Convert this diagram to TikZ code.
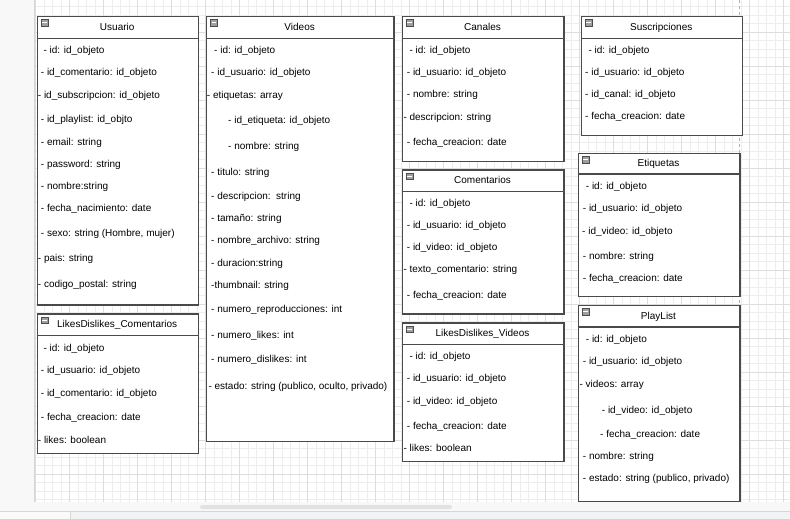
\documentclass[tikz,border=0pt]{standalone}
\usepackage{fontspec}
\setmainfont{Liberation Sans}
\definecolor{minorc}{HTML}{EDEDED}
\definecolor{majorc}{HTML}{DDDDDD}
\definecolor{boxc}{HTML}{4A4A4A}
\definecolor{panec}{HTML}{F8F8F8}
\definecolor{panerule}{HTML}{D6D6D6}
\definecolor{footc}{HTML}{F1F3F4}
\definecolor{thumbc}{HTML}{E2E2E2}
\definecolor{pagebreak}{HTML}{B0B0B0}

% one entity box: name, left, top, right, bottom, header bottom, title
\newcommand\entitybox[7]{%
  \node[entity, anchor=north west, minimum width={#4-#2}, minimum height={#5-#3}] (#1) at (#2,#3) {};
  \draw[entity] (#2,#6) -- (#4,#6);
  \node[toggle] (#1-toggle) at (#2+4,#3+3.3) {};
  \node[titletext] (#1-title) at ({(#2+#4)/2},{(#3+#6)/2+3.4}) {#7};
}
% one attribute line: name, x, vertical centre, text
\newcommand\attrrow[4]{\node[attr] (#1) at (#2,#3+3.3) {#4};}

\begin{document}
\begin{tikzpicture}[x=1pt,y=-1pt,
  gridminor/.style={draw=minorc, line width=0.6pt},
  gridmajor/.style={draw=majorc, line width=0.8pt},
  entity/.style={draw=boxc, line width=1.2pt, fill=white, inner sep=0pt},
  attr/.style={anchor=base west, inner sep=0pt, font=\fontsize{10}{12}\selectfont},
  titletext/.style={anchor=base, inner sep=0pt, font=\fontsize{10}{12}\selectfont},
  toggle/.style={draw=gray!60!black, fill=gray!75, line width=0.5pt, inner sep=0pt,
    anchor=north west, minimum width=7pt, minimum height=6.5pt,
    path picture={\draw[white, line width=1.1pt]
      ([xshift=1.3pt]path picture bounding box.west) -- ([xshift=-1.3pt]path picture bounding box.east);}}]
\useasboundingbox (0,0) rectangle (790,519);

% canvas and surrounding panels
\fill[white] (34,0) rectangle (790,502);
\fill[panec] (0,0) rectangle (34,502);
\fill[panec] (0,502) rectangle (790,511);
\fill[white!98!black] (0,511) rectangle (70,519);
\fill[footc] (70,511) rectangle (790,519);

% background grid
\foreach \x in {35.3,43.8,...,790} \draw[gridminor] (\x,0) -- (\x,502);
\foreach \y in {6.5,15,...,502} \draw[gridminor] (34,\y) -- (790,\y);
\foreach \x in {35.3,69.3,...,790} \draw[gridmajor] (\x,0) -- (\x,502);
\foreach \y in {32,66,...,502} \draw[gridmajor] (34,\y) -- (790,\y);

\draw[panerule, line width=0.8pt] (34,0) -- (34,502);
\draw[panerule, line width=0.8pt] (0,511) -- (790,511);
\draw[panerule, line width=0.8pt] (70,511) -- (70,519);
\fill[thumbc, rounded corners=2pt] (200,505) rectangle (452,509);

% page break
\draw[pagebreak, dashed, dash pattern=on 3pt off 3pt, line width=0.7pt] (739.5,0) -- (739.5,502);

% Usuario
\entitybox{usuario}{36.7}{16}{197.7}{304.3}{38.3}{Usuario}
\attrrow{u1}{43.3}{50}{- id: id\_objeto}
\attrrow{u2}{40.7}{71.7}{- id\_comentario: id\_objeto}
\attrrow{u3}{37.7}{95}{- id\_subscripcion: id\_objeto}
\attrrow{u4}{40.7}{119.3}{- id\_playlist: id\_objto}
\attrrow{u5}{40.7}{142}{- email: string}
\attrrow{u6}{40.7}{163.7}{- password: string}
\attrrow{u7}{40.7}{185.7}{- nombre:string}
\attrrow{u8}{40.7}{207.7}{- fecha\_nacimiento: date}
\attrrow{u9}{40.7}{232.7}{- sexo: string (Hombre, mujer)}
\attrrow{u10}{37.7}{257.7}{- pais: string}
\attrrow{u11}{37.7}{284}{- codigo\_postal: string}

% LikesDislikes_Comentarios
\entitybox{ldc}{36.7}{313.3}{197.7}{452.7}{335.3}{LikesDislikes\_Comentarios}
\attrrow{ldc1}{43.3}{347.7}{- id: id\_objeto}
\attrrow{ldc2}{40.7}{370}{- id\_usuario: id\_objeto}
\attrrow{ldc3}{40.7}{392.7}{- id\_comentario: id\_objeto}
\attrrow{ldc4}{40.7}{417}{- fecha\_creacion: date}
\attrrow{ldc5}{37.7}{440}{- likes: boolean}

% Videos
\entitybox{videos}{206}{16}{393.3}{440.7}{38.3}{Videos}
\attrrow{v1}{214}{50}{- id: id\_objeto}
\attrrow{v2}{211}{71.7}{- id\_usuario: id\_objeto}
\attrrow{v3}{206.7}{95}{- etiquetas: array}
\attrrow{v4}{228}{120.3}{- id\_etiqueta: id\_objeto}
\attrrow{v5}{228}{145.7}{- nombre: string}
\attrrow{v6}{211}{172}{- titulo: string}
\attrrow{v7}{211}{195.7}{- descripcion:\ \ string}
\attrrow{v8}{211}{218}{- tamaño: string}
\attrrow{v9}{211}{240}{- nombre\_archivo: string}
\attrrow{v10}{211}{263}{- duracion:string}
\attrrow{v11}{211}{284.7}{-thumbnail: string}
\attrrow{v12}{211}{309}{- numero\_reproducciones: int}
\attrrow{v13}{211}{335}{- numero\_likes: int}
\attrrow{v14}{211}{359.3}{- numero\_dislikes: int}
\attrrow{v15}{208.3}{385.7}{- estado: string (publico, oculto, privado)}

% Canales
\entitybox{canales}{401.7}{16}{563.3}{160.7}{38.3}{Canales}
\attrrow{c1}{409.3}{50}{- id: id\_objeto}
\attrrow{c2}{406.7}{71.7}{- id\_usuario: id\_objeto}
\attrrow{c3}{406.7}{94}{- nombre: string}
\attrrow{c4}{403.3}{117}{- descripcion: string}
\attrrow{c5}{406.7}{142}{- fecha\_creacion: date}

% Comentarios
\entitybox{comentarios}{401.7}{169.3}{563.3}{313.3}{191.7}{Comentarios}
\attrrow{co1}{409.3}{202.7}{- id: id\_objeto}
\attrrow{co2}{406.7}{225}{- id\_usuario: id\_objeto}
\attrrow{co3}{406.7}{247}{- id\_video: id\_objeto}
\attrrow{co4}{403.3}{269.3}{- texto\_comentario: string}
\attrrow{co5}{406.7}{294.7}{- fecha\_creacion: date}

% LikesDislikes_Videos
\entitybox{ldv}{401.7}{322.3}{563.3}{461}{344.3}{LikesDislikes\_Videos}
\attrrow{ldv1}{409.3}{355.7}{- id: id\_objeto}
\attrrow{ldv2}{406.7}{378}{- id\_usuario: id\_objeto}
\attrrow{ldv3}{406.7}{400.7}{- id\_video: id\_objeto}
\attrrow{ldv4}{406.7}{426}{- fecha\_creacion: date}
\attrrow{ldv5}{403.3}{448.3}{- likes: boolean}

% Suscripciones
\entitybox{suscripciones}{580.7}{16}{741.7}{135}{38.3}{Suscripciones}
\attrrow{s1}{588.3}{50}{- id: id\_objeto}
\attrrow{s2}{585}{71.7}{- id\_usuario: id\_objeto}
\attrrow{s3}{585}{94}{- id\_canal: id\_objeto}
\attrrow{s4}{585}{116}{- fecha\_creacion: date}

% Etiquetas
\entitybox{etiquetas}{577.7}{152.7}{739.3}{296}{174}{Etiquetas}
\attrrow{e1}{585.7}{185.7}{- id: id\_objeto}
\attrrow{e2}{582.7}{208.3}{- id\_usuario: id\_objeto}
\attrrow{e3}{582}{230.7}{- id\_video: id\_objeto}
\attrrow{e4}{582.7}{256}{- nombre: string}
\attrrow{e5}{582.7}{277.7}{- fecha\_creacion: date}

% PlayList
\entitybox{playlist}{577.7}{305}{739.3}{500.7}{327}{PlayList}
\attrrow{p1}{585.7}{339}{- id: id\_objeto}
\attrrow{p2}{582.7}{360.7}{- id\_usuario: id\_objeto}
\attrrow{p3}{579.3}{383.7}{- videos: array}
\attrrow{p4}{601.7}{409.7}{- id\_video: id\_objeto}
\attrrow{p5}{600}{433.7}{- fecha\_creacion: date}
\attrrow{p6}{582.7}{455.7}{- nombre: string}
\attrrow{p7}{582.7}{478}{- estado: string (publico, privado)}

\end{tikzpicture}
\end{document}
